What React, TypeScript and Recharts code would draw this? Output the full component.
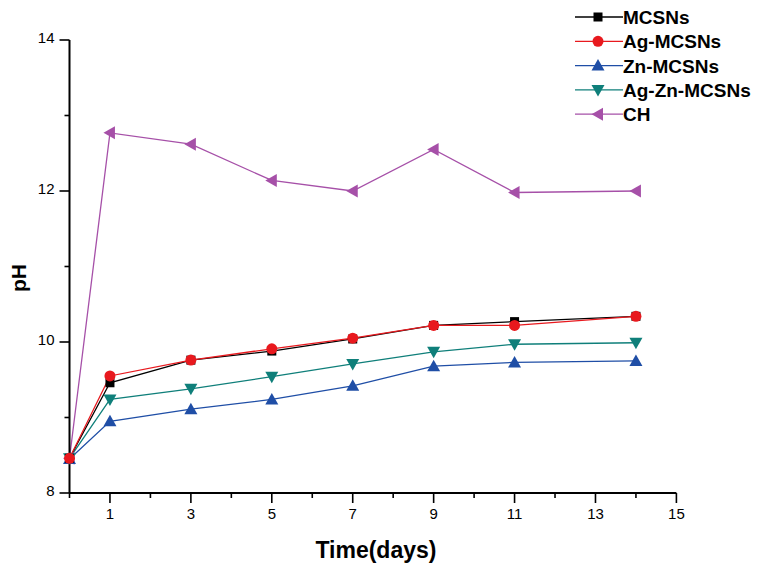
import React from 'react';
import { LineChart, Line, XAxis, YAxis, Customized } from 'recharts';

const time = [0, 1, 3, 5, 7, 9, 11, 14];
const mcsns = [8.46, 9.46, 9.76, 9.88, 10.04, 10.22, 10.27, 10.34];
const agMcsns = [8.46, 9.55, 9.76, 9.91, 10.05, 10.22, 10.22, 10.34];
const znMcsns = [8.45, 8.95, 9.11, 9.24, 9.42, 9.68, 9.73, 9.75];
const agZnMcsns = [8.46, 9.24, 9.38, 9.54, 9.71, 9.87, 9.97, 9.99];
const ch = [8.46, 12.77, 12.62, 12.14, 12.0, 12.55, 11.98, 12.0];

const xTicks = [0, 1, 2, 3, 4, 5, 6, 7, 8, 9, 10, 11, 12, 13, 14, 15];
const xLabeled = [1, 3, 5, 7, 9, 11, 13, 15];
const yTicks = [8, 9, 10, 11, 12, 13, 14];
const yLabeled = [8, 10, 12, 14];

const seriesNames = ['MCSNs', 'Ag-MCSNs', 'Zn-MCSNs', 'Ag-Zn-MCSNs', 'CH'];
const seriesKeys = ['mcsns', 'ag', 'zn', 'agzn', 'ch'];
const seriesColors = ['#000000', '#e8191e', '#1f4ea6', '#0f7f7a', '#a650a8'];
const seriesShapes = ['square', 'circle', 'up', 'down', 'left'];

const data = time.map((t, i) => ({
  t,
  mcsns: mcsns[i],
  ag: agMcsns[i],
  zn: znMcsns[i],
  agzn: agZnMcsns[i],
  ch: ch[i],
}));

const FONT = "Arial, 'Liberation Sans', Helvetica, sans-serif";

function marker(shape: string, cx: number, cy: number, color: string, key?: any) {
  switch (shape) {
    case 'square':
      return <rect key={key} x={cx - 4.5} y={cy - 4.5} width={9} height={9} fill={color} />;
    case 'circle':
      return <circle key={key} cx={cx} cy={cy} r={5.5} fill={color} />;
    case 'up':
      return <polygon key={key} points={`${cx},${cy - 6.5} ${cx - 6.5},${cy + 5} ${cx + 6.5},${cy + 5}`} fill={color} />;
    case 'down':
      return <polygon key={key} points={`${cx - 6.5},${cy - 5} ${cx + 6.5},${cy - 5} ${cx},${cy + 6.5}`} fill={color} />;
    default:
      return <polygon key={key} points={`${cx - 6.5},${cy} ${cx + 5},${cy - 6.5} ${cx + 5},${cy + 6.5}`} fill={color} />;
  }
}

const makeDot = (shape: string, color: string) => (props: any) => {
  const { cx, cy, index } = props;
  if (cx == null || cy == null) return <g key={`d-${index}`} />;
  return marker(shape, cx, cy, color, `d-${shape}-${index}`);
};

const XTick = (props: any) => {
  const { x, y, payload } = props;
  const v = payload.value;
  const major = xLabeled.includes(v);
  return (
    <g>
      <line x1={x} x2={x} y1={y} y2={y + (major ? 10 : 5)} stroke="#000" strokeWidth={1.6} />
      {major && (
        <text x={x} y={y + 26} textAnchor="middle" fontSize={15} fontFamily={FONT} fill="#000">
          {v}
        </text>
      )}
    </g>
  );
};

const YTick = (props: any) => {
  const { x, y, payload } = props;
  const v = payload.value;
  const major = yLabeled.includes(v);
  return (
    <g>
      <line x1={x - (major ? 10 : 5)} x2={x} y1={y} y2={y} stroke="#000" strokeWidth={1.6} />
      {major && (
        <text x={x - 15} y={y + 3} textAnchor="end" fontSize={15} fontFamily={FONT} fill="#000">
          {v}
        </text>
      )}
    </g>
  );
};

// legend drawn inside the chart svg (chart origin is at page 8,8)
const LegendBlock = () => (
  <g className="custom-legend">
    {seriesNames.map((name, i) => {
      const cy = 9 + i * 24.3;
      return (
        <g key={name}>
          <line x1={567} x2={615} y1={cy} y2={cy} stroke={seriesColors[i]} strokeWidth={1.3} />
          {marker(seriesShapes[i], 590, cy, seriesColors[i])}
          <text x={615} y={cy + 7} fontSize={19} fontWeight="bold" fontFamily={FONT} fill="#000">
            {name}
          </text>
        </g>
      );
    })}
  </g>
);

const XLabel = (props: any) => {
  const { viewBox } = props;
  return (
    <text x={viewBox.x + viewBox.width / 2 + 3} y={viewBox.y + 65} textAnchor="middle" fontSize={23} fontWeight="bold" fontFamily={FONT} fill="#000">
      Time(days)
    </text>
  );
};

const YLabel = () => (
  <text x={17.5} y={270} transform="rotate(-90 17.5 270)" textAnchor="middle" fontSize={21} fontWeight="bold" fontFamily={FONT} fill="#000">
    pH
  </text>
);

export default function App() {
  return (
    <LineChart width={752} height={557} data={data} margin={{ top: 32, right: 83.6, bottom: 0, left: 0 }}>
      <XAxis
        dataKey="t"
        type="number"
        domain={[0, 15]}
        ticks={xTicks}
        interval={0}
        tickSize={0}
        tickMargin={0}
        tickLine={false}
        tick={<XTick />}
        height={72}
        axisLine={{ stroke: '#000', strokeWidth: 2 }}
        label={<XLabel />}
      />
      <YAxis
        type="number"
        domain={[8, 14]}
        ticks={yTicks}
        interval={0}
        tickSize={0}
        tickMargin={0}
        tickLine={false}
        tick={<YTick />}
        width={61.5}
        axisLine={{ stroke: '#000', strokeWidth: 2 }}
        label={<YLabel />}
      />
      {[4, 2, 3, 0, 1].map((i) => (
        <Line
          key={seriesKeys[i]}
          dataKey={seriesKeys[i]}
          name={seriesNames[i]}
          type="linear"
          stroke={seriesColors[i]}
          strokeWidth={1.3}
          dot={makeDot(seriesShapes[i], seriesColors[i])}
          activeDot={false}
          isAnimationActive={false}
        />
      ))}
      <Customized component={LegendBlock} />
    </LineChart>
  );
}
